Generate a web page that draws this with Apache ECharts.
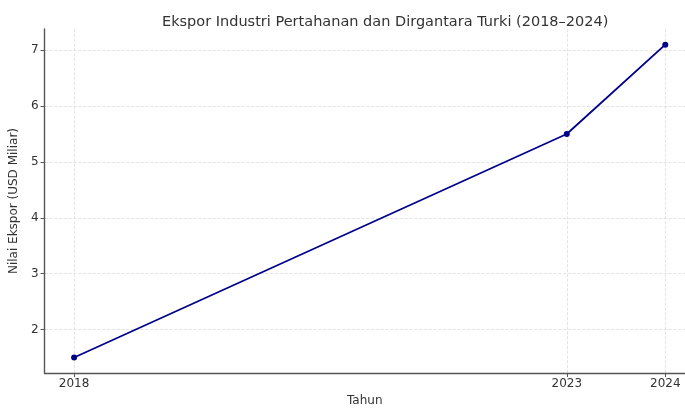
<!DOCTYPE html>
<html><head><meta charset="utf-8">
<script src="https://cdn.jsdelivr.net/npm/echarts@6/dist/echarts.min.js"></script>
<style>html,body{margin:0;padding:0;background:#fff;width:100%;height:100%;overflow:hidden}#c{width:685px;height:412px}</style>
</head><body><div id="c"></div>
<script>
const years = [2018, 2023, 2024];
const values = [1.5, 5.5, 7.1];
const yTicks = [2, 3, 4, 5, 6, 7];
const title = 'Ekspor Industri Pertahanan dan Dirgantara Turki (2018–2024)';
const xName = 'Tahun';
const yName = 'Nilai Ekspor (USD Miliar)';

const font = 'DejaVu Sans';
const chart = echarts.init(document.getElementById('c'));
chart.setOption({
  animation: false,
  title: {text: title, left: 157, top: 10, textStyle: {fontFamily: font, fontSize: 14.5, fontWeight: 'normal', color: '#333'}},
  grid: {left: 40, right: 0, top: 29, bottom: 29, containLabel: false},
  xAxis: {
    type: 'value', min: 2017.7, max: 2024.2,
    name: xName, nameLocation: 'middle', nameGap: 20,
    nameTextStyle: {fontFamily: font, fontSize: 12, color: '#333'},
    axisLine: {show: true, onZero: false, lineStyle: {color: '#555', width: 1.4}},
    axisTick: {show: true, inside: false, length: 4, customValues: years, lineStyle: {color: '#555'}},
    axisLabel: {customValues: years, formatter: v => String(v), fontFamily: font, fontSize: 12, color: '#333', margin: 5},
    splitLine: {show: true, lineStyle: {color: '#ddd', type: 'dashed', width: 0.8}}
  },
  yAxis: {
    type: 'value', min: 1.22, max: 7.38,
    name: yName, nameLocation: 'middle', nameGap: 22, nameRotate: 90,
    nameTextStyle: {fontFamily: font, fontSize: 12, color: '#333'},
    axisLine: {show: true, onZero: false, lineStyle: {color: '#555', width: 1.4}},
    axisTick: {show: true, inside: false, length: 4, customValues: yTicks, lineStyle: {color: '#555'}},
    axisLabel: {customValues: yTicks, fontFamily: font, fontSize: 12, color: '#333', margin: 6},
    splitLine: {show: true, lineStyle: {color: '#ddd', type: 'dashed', width: 0.8}}
  },
  series: [{
    type: 'line', data: years.map((y, i) => [y, values[i]]),
    symbol: 'circle', symbolSize: 6,
    lineStyle: {color: '#00008B', width: 1.8},
    itemStyle: {color: '#00008B'}
  }]
});
</script></body></html>
